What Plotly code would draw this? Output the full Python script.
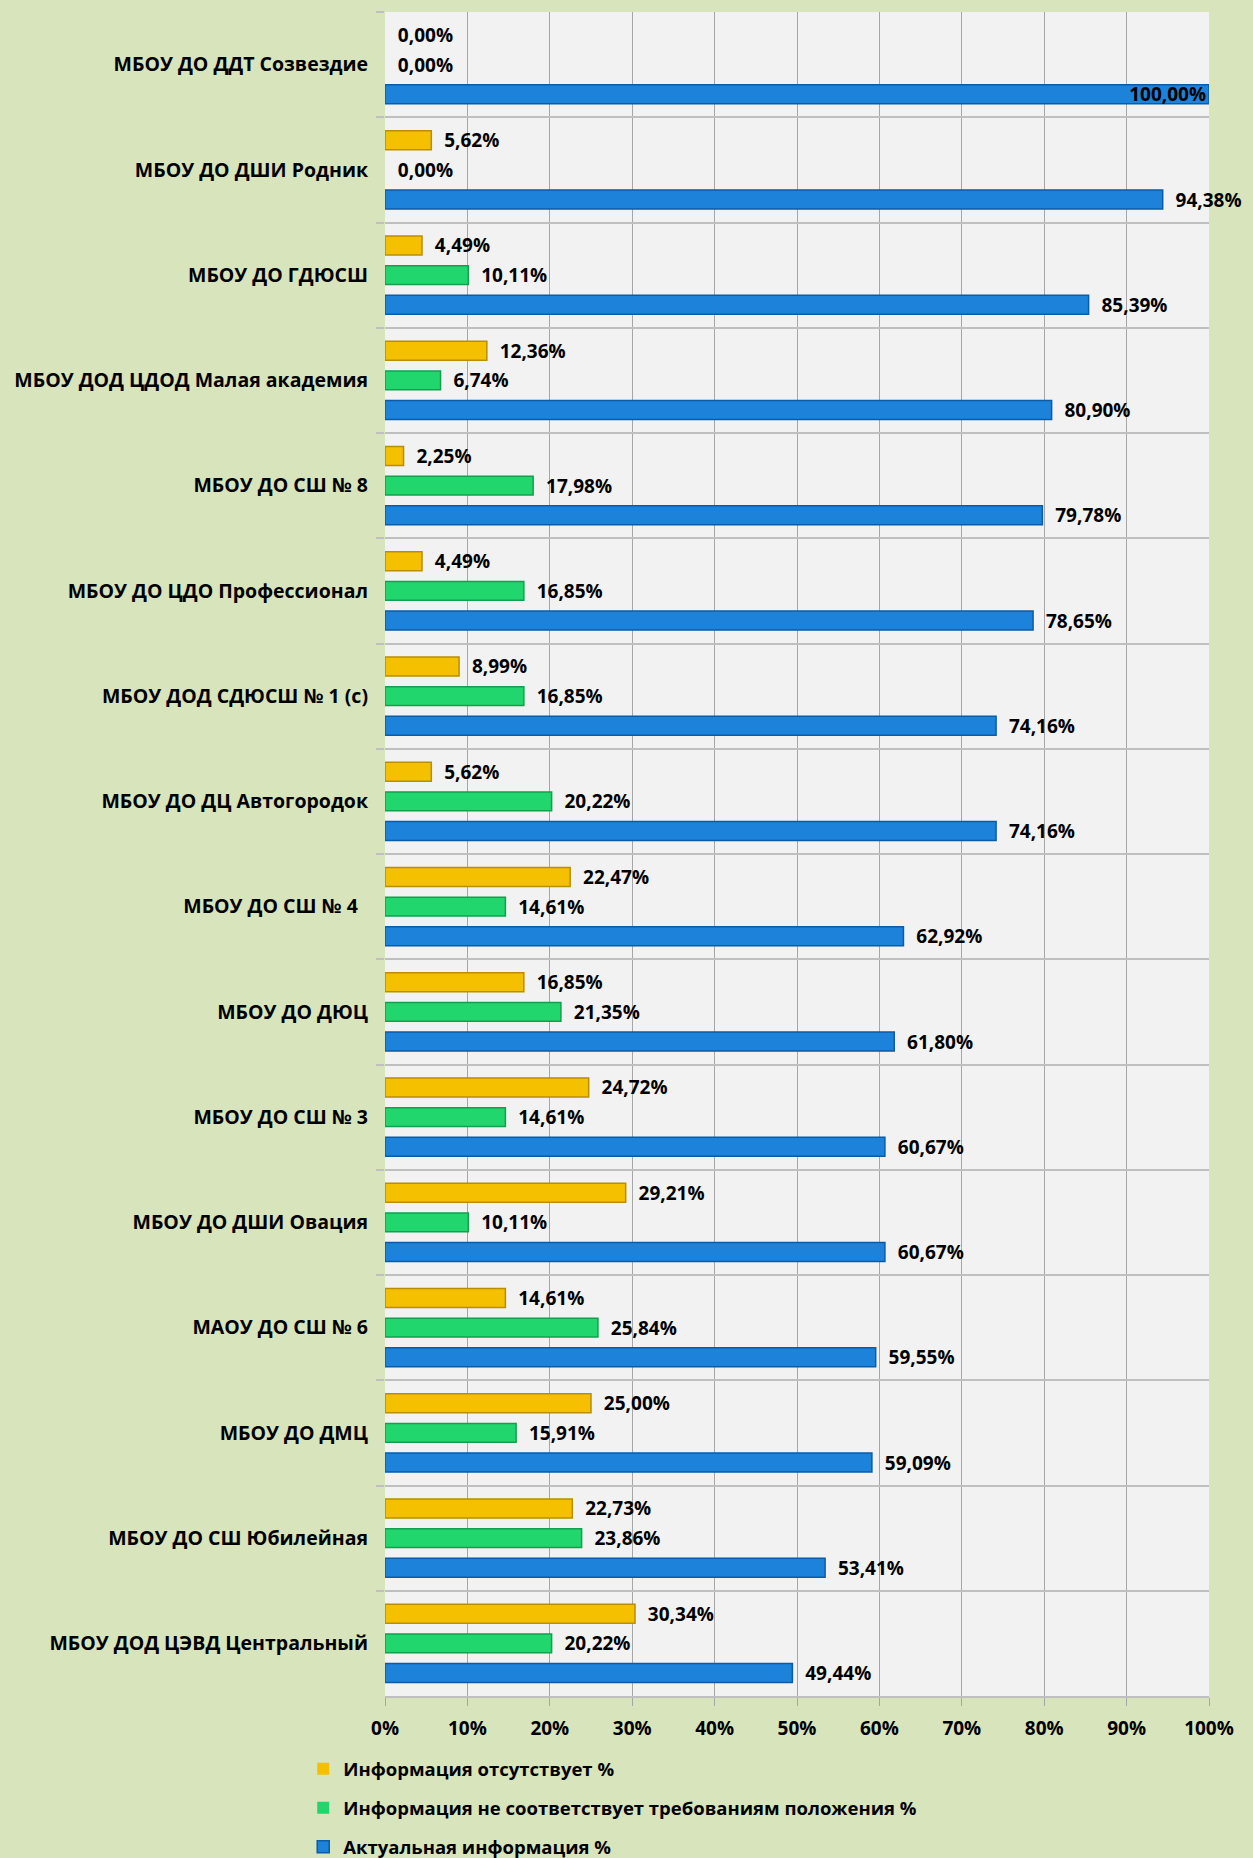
import plotly.graph_objects as go

categories = [
    "МБОУ ДО ДДТ Созвездие",
    "МБОУ ДО ДШИ Родник",
    "МБОУ ДО ГДЮСШ",
    "МБОУ ДОД ЦДОД Малая академия",
    "МБОУ ДО СШ № 8",
    "МБОУ ДО ЦДО Профессионал",
    "МБОУ ДОД СДЮСШ № 1 (с)",
    "МБОУ ДО ДЦ Автогородок",
    "МБОУ ДО СШ № 4\u00a0\u00a0",
    "МБОУ ДО ДЮЦ",
    "МБОУ ДО СШ № 3",
    "МБОУ ДО ДШИ Овация",
    "МАОУ ДО СШ № 6",
    "МБОУ ДО ДМЦ",
    "МБОУ ДО СШ Юбилейная",
    "МБОУ ДОД ЦЭВД Центральный",
]

absent = [0.00, 5.62, 4.49, 12.36, 2.25, 4.49, 8.99, 5.62, 22.47, 16.85,
          24.72, 29.21, 14.61, 25.00, 22.73, 30.34]
not_compliant = [0.00, 0.00, 10.11, 6.74, 17.98, 16.85, 16.85, 20.22, 14.61,
                 21.35, 14.61, 10.11, 25.84, 15.91, 23.86, 20.22]
actual = [100.00, 94.38, 85.39, 80.90, 79.78, 78.65, 74.16, 74.16, 62.92,
          61.80, 60.67, 60.67, 59.55, 59.09, 53.41, 49.44]

series_names = [
    "Информация отсутствует %",
    "Информация не соответствует требованиям положения %",
    "Актуальная информация %",
]
x_ticks = list(range(0, 101, 10))
x_tick_labels = [f"{t}%" for t in x_ticks]

FONT = "Open Sans"
fills = ["#F4C000", "#22D66E", "#1C82DA"]
edges = ["#B88F00", "#12A04E", "#0B5CA8"]


def fmt(v):
    return "\u00a0\u00a0" + f"{v:.2f}".replace(".", ",") + "%"


fig = go.Figure()
for i, (name, vals) in enumerate(zip(series_names, [absent, not_compliant, actual])):
    texts = [fmt(v) if v < 100 else f"{v:.2f}".replace(".", ",") + "%" for v in vals]
    pos = ["inside" if v >= 100 else "outside" for v in vals]
    line_w = [0 if v == 0 else 1.5 for v in vals]
    fig.add_trace(go.Bar(
        name=name,
        y=categories,
        x=vals,
        orientation="h",
        text=texts,
        textposition=pos,
        insidetextanchor="end",
        constraintext="none",
        cliponaxis=False,
        textfont=dict(family=FONT, size=19, color="#000000", weight="bold"),
        insidetextfont=dict(family=FONT, size=19, color="#000000", weight="bold"),
        outsidetextfont=dict(family=FONT, size=19, color="#000000", weight="bold"),
        marker=dict(color=fills[i], line=dict(color=edges[i], width=line_w)),
        legendgroup=f"g{i}",
    ))

fig.update_layout(
    width=1253,
    height=1858,
    paper_bgcolor="#D8E4BC",
    plot_bgcolor="#F2F2F2",
    barmode="group",
    bargap=0.155,
    bargroupgap=0.36,
    margin=dict(l=385, r=44, t=12, b=162, autoexpand=False),
    font=dict(family=FONT, size=19, color="#000000"),
    showlegend=True,
    legend=dict(
        orientation="v",
        xref="container", yref="container",
        x=0.242, y=0.058, xanchor="left", yanchor="top",
        bgcolor="rgba(0,0,0,0)",
        font=dict(family=FONT, size=18.5, color="#000000", weight="bold"),
        itemwidth=30,
        tracegroupgap=12,
        traceorder="grouped",
    ),
    xaxis=dict(
        range=[0, 100],
        automargin=False,
        tickvals=x_ticks,
        ticktext=x_tick_labels,
        tickangle=0,
        showgrid=True,
        gridcolor="#A6A6A6",
        gridwidth=1,
        zeroline=False,
        showline=True,
        linecolor="#BFBFBF",
        linewidth=2,
        ticks="outside",
        ticklen=8,
        tickcolor="#A6A6A6",
        ticklabelstandoff=6,
        tickfont=dict(family=FONT, size=19, color="#000000", weight="bold"),
    ),
    yaxis=dict(
        autorange="reversed",
        automargin=False,
        tickson="boundaries",
        showgrid=True,
        gridcolor="#BFBFBF",
        gridwidth=2,
        ticks="outside",
        ticklen=8,
        tickcolor="#BFBFBF",
        tickwidth=2,
        ticklabelstandoff=16,
        showline=False,
        tickfont=dict(family=FONT, size=19.5, color="#000000", weight="bold"),
    ),
)

fig.write_html(
    "out.html",
    config={"displayModeBar": False},
    post_script="document.body.style.margin='0';document.body.style.padding='0';",
)
